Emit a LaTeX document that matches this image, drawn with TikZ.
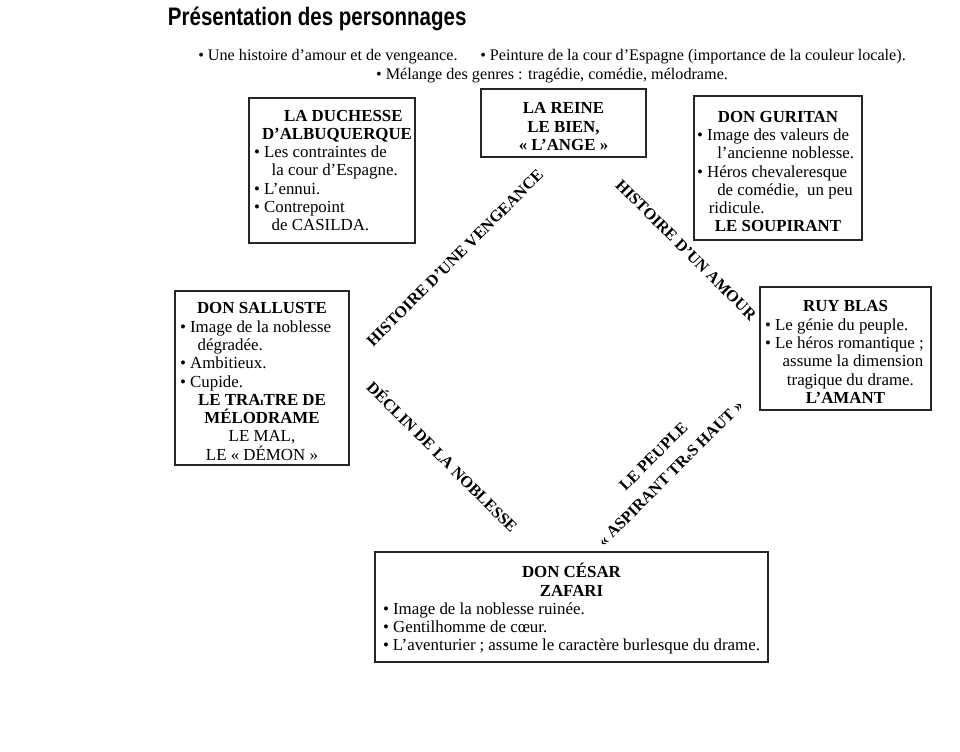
\documentclass[tikz,border=0pt]{standalone}
\usepackage{fontspec}
\setmainfont{Liberation Serif}
\newfontfamily\titlefont[FakeStretch=0.81]{Liberation Sans}
\newlength\px
\setlength\px{0.025cm}
\setlength\parindent{0pt}
\def\puce{\textbullet\ }
\def\suite{\hspace*{1.05em}}
\def\tete#1{\par{\centering\bfseries #1\par}}
\def\centre#1{\par{\centering #1\par}}
\tikzset{
  perso/.style={draw=black!85, line width=1.3pt, inner sep=0pt, align=flush left,
    font=\fontsize{12}{13}\selectfont},
  theme/.style={font=\fontsize{11.5}{13}\selectfont\bfseries, align=center},
}

\begin{document}
\begin{tikzpicture}[x=0.025cm, y=-0.025cm]
			%%%%% START %%%%%
			\useasboundingbox[fill=white] (0, 0) rectangle (960, 751);

			% titre et themes
			\node[anchor=west, font=\titlefont\bfseries\fontsize{18}{20}\selectfont] (titre) at (163, 19) {Présentation des personnages};
			\node[align=center, font=\fontsize{11.5}{13}\selectfont] (themes) at (552, 66)
				{\puce Une histoire d'amour et de vengeance.\hspace{1.4em}\puce Peinture de la cour d'Espagne (importance de la couleur locale).\\
				\puce Mélange des genres : tragédie, comédie, mélodrame.};

			% personnages
			\node[perso, minimum width=166\px, minimum height=145\px, text width=156\px] (duchesse) at (332, 170.5)
				{{\bfseries\hspace*{30\px}LA DUCHESSE\\\hspace*{8\px}D'ALBUQUERQUE\par}
				\puce Les contraintes de\\\suite la cour d'Espagne.\\\puce L'ennui.\\\puce Contrepoint\\\suite de CASILDA.\par};

			\node[perso, minimum width=165\px, minimum height=68\px, text width=155\px] (reine) at (563.5, 123)
				{\tete{LA REINE\\LE BIEN,\\« L'ANGE »}};

			\node[perso, minimum width=168\px, minimum height=144\px, text width=162\px] (guritan) at (778, 168)
				{\tete{DON GURITAN}
				\puce Image des valeurs de\\\hspace*{1.2em}l'ancienne noblesse.\\\puce Héros chevaleresque\\\hspace*{1.2em}de comédie,~ un peu\\\hspace*{0.7em}ridicule.
				\tete{LE SOUPIRANT}};

			\node[perso, minimum width=174\px, minimum height=174\px, text width=164\px] (salluste) at (262, 378)
				{\tete{DON SALLUSTE}
				\puce Image de la noblesse\\\suite dégradée.\\\puce Ambitieux.\\\puce Cupide.
				\tete{LE TRA{\footnotesize\i}TRE DE\\MÉLODRAME}
				\centre{LE MAL,\\LE « DÉMON »}};

			\node[perso, minimum width=171\px, minimum height=123\px, text width=161\px] (ruyblas) at (845.5, 348.5)
				{\tete{RUY BLAS}
				\puce Le génie du peuple.\\\puce Le héros romantique ;\\\suite assume la dimension\\\hspace*{1.3em}tragique du drame.
				\tete{L'AMANT}};

			\node[perso, minimum width=393\px, minimum height=110\px, text width=377\px] (cesar) at (571.5, 607)
				{\tete{DON CÉSAR\\ZAFARI}
				\puce Image de la noblesse ruinée.\\\puce Gentilhomme de cœur.\\\puce L'aventurier ; assume le caractère burlesque du drame.\par};

			% liens en losange
			\node[theme, rotate=45] (vengeance) at (455, 258) {HISTOIRE D'UNE VENGEANCE};
			\node[theme, rotate=-45] (amour) at (686, 250) {HISTOIRE D'UN AMOUR};
			\node[theme, rotate=-45] (declin) at (443, 456) {DÉCLIN DE LA NOBLESSE};
			\node[theme, rotate=45, font=\fontsize{11.5}{17}\selectfont\bfseries] (peuple) at (662, 465) {LE PEUPLE\\« ASPIRANT TR{\footnotesize e}S HAUT »};
			%%%%% END %%%%%
\end{tikzpicture}
\end{document}
